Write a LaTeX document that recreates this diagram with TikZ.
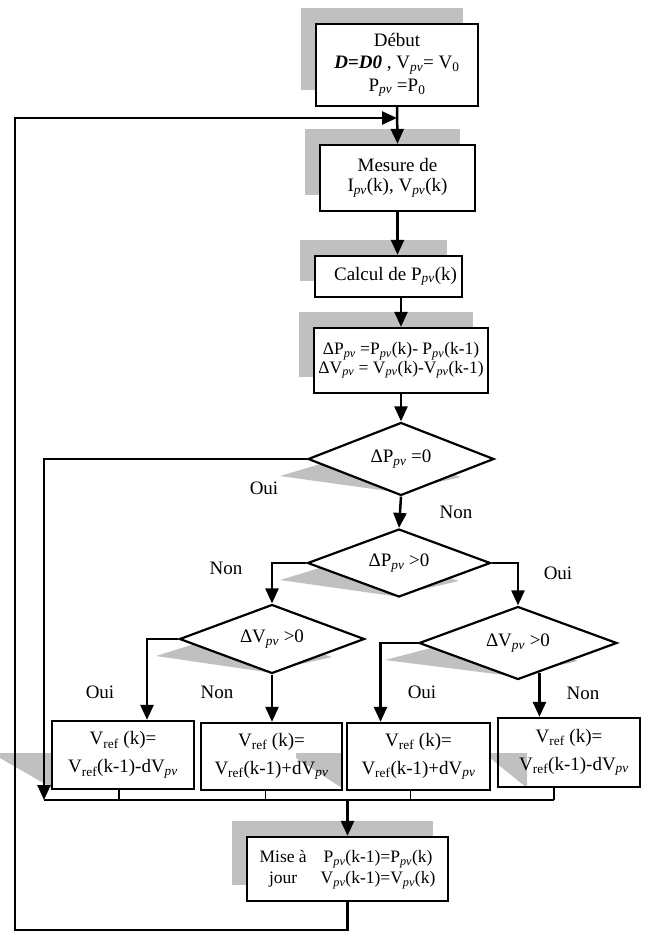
\documentclass[tikz,border=0pt]{standalone}
\usepackage{fontspec}
\setmainfont{Liberation Serif}
\usetikzlibrary{arrows.meta,shapes.geometric,shadows,backgrounds,calc}
\definecolor{shgray}{RGB}{192,192,192}
\newcommand\pv{\textsubscript{\textit{pv}}}
\newcommand\vref{V\textsubscript{ref}}
% flat gray shadow under a decision diamond: #1 node name, #2 reach to the left
\newcommand\diashadow[2]{\fill[shgray] ($(#1)+(-#2,17)$) -- ($(#1)+(-30,-10)$) -- ($(#1)+(60,18)$) -- ($(#1)+(-6,33)$) -- cycle;}
% slanted gray wedge beside a lower box: #1 left end, #2 right end
\newcommand\wedgeshadow[2]{\fill[shgray, blend mode=multiply] (#1,753) -- (#2,753) -- (#2,788) -- (#1,758) -- cycle;}
\begin{document}
\begin{tikzpicture}[x=1pt,y=-1pt,
  font=\fontsize{19}{21}\selectfont,
  procbox/.style={draw, fill=white, line width=2.3pt, align=center, inner sep=0pt},
  boxshadow/.style={general shadow={fill=shgray, shadow xshift=-15pt, shadow yshift=16pt}},
  decision/.style={draw, fill=white, diamond, aspect=2.5, line width=2.2pt, inner sep=0pt},
  arr/.style={line width=2.5pt, -{Triangle[length=15pt,width=13pt]}},
  thinlink/.style={line width=1.6pt},
  lbl/.style={inner sep=0pt}]
\useasboundingbox (0,0) rectangle (652,932);

% process boxes
\node[procbox, boxshadow, minimum width=162pt, minimum height=82pt, font=\fontsize{19}{22.5}\selectfont] (b1) at (397,65)
  {Début\\ \textbf{\textit{D}=\textit{D0}} , V\pv= V\textsubscript{0}\\ P\pv{} =P\textsubscript{0}};
\node[procbox, boxshadow, minimum width=155pt, minimum height=66pt, font=\fontsize{19}{20}\selectfont] (b2) at (397.5,178)
  {Mesure de\\ I\pv(k), V\pv(k)};
\node[procbox, boxshadow, minimum width=147pt, minimum height=41pt] (b3) at (388.5,276.5)
  {\hspace*{14pt}Calcul de P\pv(k)};
\node[procbox, boxshadow, minimum width=174pt, minimum height=65pt, font=\fontsize{17.5}{18.5}\selectfont] (b4) at (401,360.5)
  {ΔP\pv{} =P\pv(k)- P\pv(k-1)\\ ΔV\pv{} = V\pv(k)-V\pv(k-1)};

% decisions
\node[decision, minimum width=186pt, minimum height=73pt] (d1) at (401,459) {\raisebox{-5pt}{ΔP\pv{} =0}};
\node[decision, minimum width=183pt, minimum height=68pt] (d2) at (399,563) {\raisebox{-5pt}{ΔP\pv{} >0}};
\node[decision, minimum width=185pt, minimum height=69pt] (d3) at (272,639) {\raisebox{-5pt}{ΔV\pv{} >0}};
\node[decision, minimum width=198pt, minimum height=73pt] (d4) at (518,643) {\raisebox{-5pt}{ΔV\pv{} >0}};

% updates of the reference voltage
\begin{scope}[every node/.append style={font=\fontsize{19}{28}\selectfont}]
\node[procbox, minimum width=142pt, minimum height=68pt] (bA) at (123,755)
  {\vref{} (k)=\\ \vref(k-1)-dV\pv};
\node[procbox, minimum width=141pt, minimum height=67pt] (bB) at (271.5,756.5)
  {\vref{} (k)=\\ \vref(k-1)+dV\pv};
\node[procbox, minimum width=143pt, minimum height=67pt] (bC) at (418.5,756.5)
  {\vref{} (k)=\\ \vref(k-1)+dV\pv};
\node[procbox, minimum width=142pt, minimum height=69pt] (bD) at (569,752.5)
  {\vref{} (k)=\\ \hspace*{10pt}\vref(k-1)-dV\pv};
\end{scope}

\node[procbox, boxshadow, minimum width=201pt, minimum height=64pt, font=\fontsize{17.5}{21}\selectfont] (bM) at (347.5,869)
  {\begin{tabular}{@{}c@{\hspace{14pt}}c@{}}Mise à & P\pv(k-1)=P\pv(k)\\ jour & V\pv(k-1)=V\pv(k)\end{tabular}};

% shadows of the diamonds
\begin{scope}[on background layer]
  \diashadow{d1}{121}
  \diashadow{d2}{119}
  \diashadow{d3}{116}
  \diashadow{d4}{133}
\end{scope}
% shadows of the lower boxes
\wedgeshadow{0}{52}
\wedgeshadow{296}{342}
\wedgeshadow{490}{527}

% branch labels
\node[lbl] (l1) at (264,488) {Oui};
\node[lbl] (l2) at (456,512) {Non};
\node[lbl] (l3) at (226,568) {Non};
\node[lbl] (l4) at (558,573) {Oui};
\node[lbl] (l5) at (100,692) {Oui};
\node[lbl] (l6) at (217,692) {Non};
\node[lbl] (l7) at (422,692) {Oui};
\node[lbl] (l8) at (583,693) {Non};

% junction points
\coordinate (j1) at (397,118);
\coordinate (m0) at (44,800);
\coordinate (lp) at (15,930);

% main chain
\draw[arr] (b1.south) -- (b2.north);
\draw[arr] (b2.south) -- (b2.south |- b3.north);
\draw[arr] (b4.north |- b3.south) -- (b4.north);
\draw[arr] (b4.south) -- (b4.south |- d1.north);
\draw[arr] (d1.south) -- (d2.north);

% branches
\draw[arr] (d1.west) -| (m0);
\draw[arr] (d2.west) -| (d3.north);
\draw[arr] (d2.east) -| (d4.north);
\draw[arr] (d3.west) -| ([xshift=24pt]bA.north);
\draw[arr] (d3.south) -- (d3.south |- bB.north);
\draw[arr] (d4.west) -| ([xshift=-38pt]bC.north);
\draw[arr] (d4.-54) -- (d4.-54 |- bD.north);

% merging of the four updates
\draw[thinlink] (m0) -- ([xshift=-15pt]bD.south |- m0);
\draw[thinlink] ([xshift=-4pt]bA.south) -- ([xshift=-4pt]bA.south |- m0);
\draw[thinlink] ([xshift=-6pt]bB.south) -- ([xshift=-6pt]bB.south |- m0);
\draw[thinlink] ([xshift=-8pt]bC.south) -- ([xshift=-8pt]bC.south |- m0);
\draw[thinlink] ([xshift=-15pt]bD.south) -- ([xshift=-15pt]bD.south |- m0);
\draw[arr] (bM.north |- m0) -- (bM.north);

% loop back to the measurement
\draw[arr] (bM.south) |- (lp) |- (j1);
\end{tikzpicture}
\end{document}
